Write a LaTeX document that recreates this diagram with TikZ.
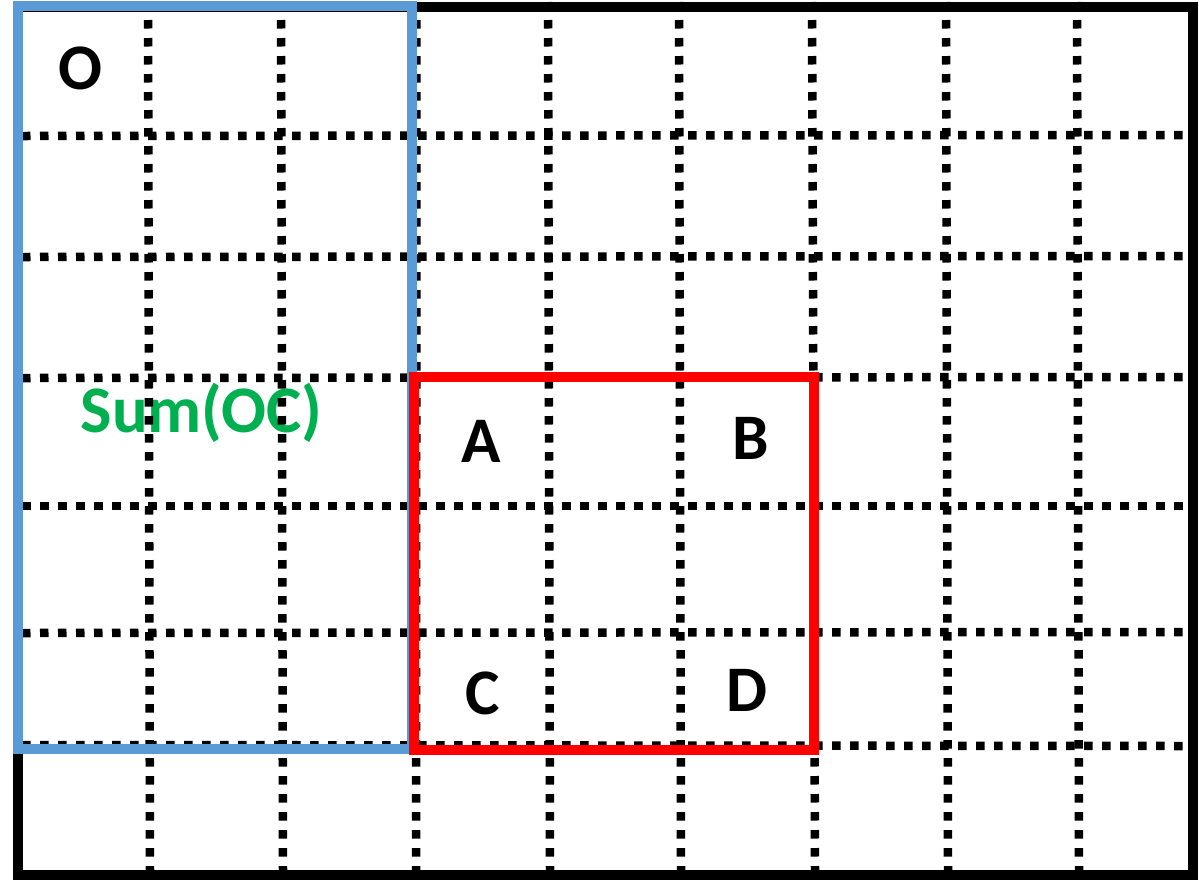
\documentclass[tikz,border=0pt]{standalone}
\usepackage{fontspec}
\setmainfont{Carlito}
\definecolor{boxblue}{HTML}{5B9BD5}
\definecolor{sumgreen}{HTML}{00B050}
\definecolor{boxred}{HTML}{FF0000}
\tikzset{
  gridline/.style={line width=8.5pt, dash pattern=on 8.5pt off 9.5pt, black},
  frame/.style={line width=10pt},
  lbl/.style={inner sep=0pt, anchor=base, font=\fontsize{65}{70}\selectfont\bfseries},
}
\begin{document}
\begin{tikzpicture}[x=1pt,y=-1pt]
\useasboundingbox (0,0) rectangle (1199,884);
\fill[white] (0,0) rectangle (1199,884);
% labels (under the grid)
\node[lbl] (O) at (80.5,89) {O};
\node[lbl, text=sumgreen, font=\fontsize{66.5}{70}\selectfont\bfseries] (sum) at (201.5,432.5) {Sum(OC)};
\node[lbl] (A) at (481,462.5) {A};
\node[lbl] (B) at (750.5,459) {B};
\node[lbl] (C) at (483,714) {C};
\node[lbl] (D) at (747,711.5) {D};
% vertical grid lines
\foreach \xa/\xb in {148/150, 281/283, 416.5/416, 548/550, 679/681, 812/815, 946/948, 1077/1079}
  \draw[gridline] (\xa,2) -- (\xb,870);
% horizontal grid lines
\foreach \ya/\yb in {136/135, 257/256, 378/377, 506/506, 633/632, 745/746}
  \draw[gridline] (22,\ya) -- (1188,\yb);
% outer frame
\draw[frame, black] (17.5,6.5) rectangle (1192.5,874.5);
% blue region
\draw[frame, boxblue] (17.5,6) rectangle (411.5,748.5);
% red region
\draw[frame, boxred] (413.5,377) rectangle (813.5,750);
\end{tikzpicture}
\end{document}
